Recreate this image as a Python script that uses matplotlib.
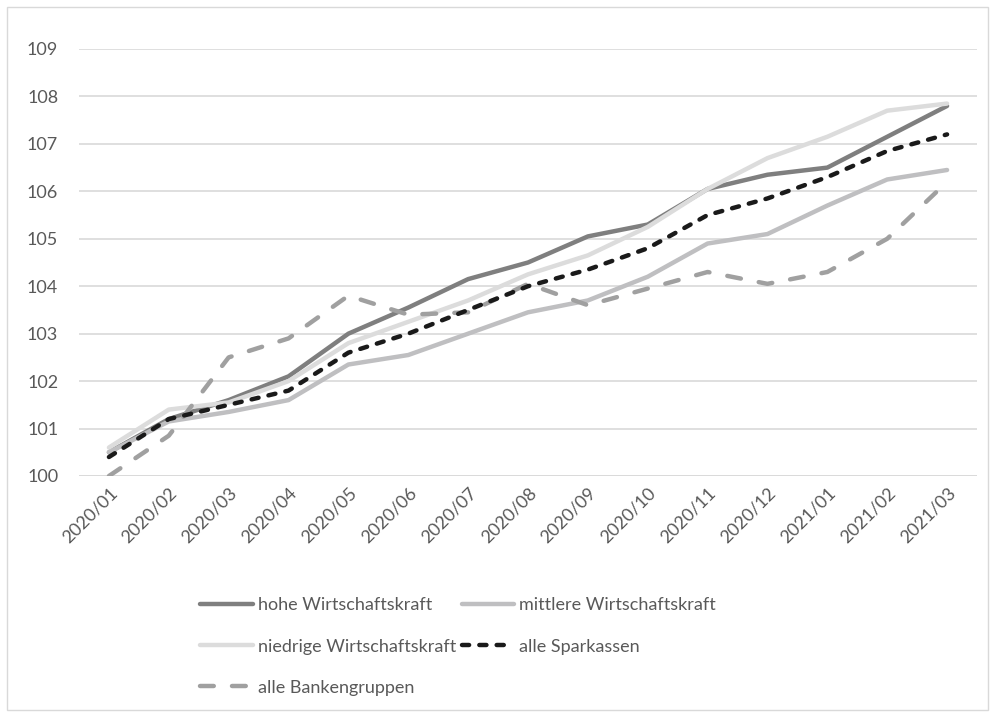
import numpy as np
import matplotlib.pyplot as plt
from matplotlib.patches import Rectangle

# Monate
monate = ['2020/01', '2020/02', '2020/03', '2020/04', '2020/05', '2020/06', '2020/07', '2020/08',
          '2020/09', '2020/10', '2020/11', '2020/12', '2021/01', '2021/02', '2021/03']

hohe = [100.5, 101.2, 101.6, 102.1, 103.0, 103.55, 104.15, 104.5, 105.05, 105.3,
        106.05, 106.35, 106.5, 107.15, 107.8]
mittlere = [100.5, 101.15, 101.35, 101.6, 102.35, 102.55, 103.0, 103.45, 103.7, 104.2,
            104.9, 105.1, 105.7, 106.25, 106.45]
niedrige = [100.6, 101.4, 101.55, 102.0, 102.8, 103.25, 103.7, 104.25, 104.65, 105.25,
            106.05, 106.7, 107.15, 107.7, 107.85]
sparkassen = [100.4, 101.2, 101.5, 101.8, 102.6, 103.0, 103.5, 104.0, 104.35, 104.8,
              105.5, 105.85, 106.3, 106.85, 107.2]
bankengruppen = [100.0, 100.85, 102.5, 102.9, 103.8, 103.4, 103.45, 104.05, 103.6, 103.95,
                 104.3, 104.05, 104.3, 105.0, 106.2]

plt.rcParams['font.family'] = ['Lato', 'DejaVu Sans']

fig = plt.figure(figsize=(9.95, 7.17), dpi=100)
ax = fig.add_axes([79/995, 1 - 476/717, (977 - 79)/995, (476 - 49)/717])

x = np.arange(len(monate))
l1, = ax.plot(x, hohe, color='#7f7f7f', lw=3.2, solid_capstyle='round', label='hohe Wirtschaftskraft')
l2, = ax.plot(x, mittlere, color='#bfbfc1', lw=3.2, solid_capstyle='round', label='mittlere Wirtschaftskraft')
l3, = ax.plot(x, niedrige, color='#dcdcdc', lw=3.2, solid_capstyle='round', label='niedrige Wirtschaftskraft')
l5, = ax.plot(x, bankengruppen, color='#a0a0a0', lw=3.2, dashes=(3.1, 4.1), dash_capstyle='round',
              label='alle Bankengruppen')
l4, = ax.plot(x, sparkassen, color='#1a1a1a', lw=3.2, dashes=(1.6, 2.3), dash_capstyle='round',
              label='alle Sparkassen')

ax.set_xlim(-0.5, len(monate) - 0.5)
ax.set_ylim(100, 109)
ax.set_yticks(range(100, 110))
ax.set_xticks(x)
ax.set_xticklabels(monate, rotation=45, ha='right', rotation_mode='anchor')
ax.tick_params(axis='both', length=0, labelsize=13, colors='#595959')
ax.tick_params(axis='y', pad=15)
ax.tick_params(axis='x', pad=6)
ax.grid(axis='y', color='#d9d9d9', lw=1.2)
ax.set_axisbelow(True)
for s in ax.spines.values():
    s.set_visible(False)
ax.axhline(100, color='#d9d9d9', lw=1.2, zorder=0)

# Legende
leg = fig.legend(handles=[l1, l3, l5, l2, l4], loc='upper left',
                 bbox_to_anchor=(184/995, 1 - 581/717), ncol=2, frameon=False,
                 fontsize=13, handlelength=2.9, handletextpad=0.3, columnspacing=0.3,
                 labelspacing=1.4)
for t in leg.get_texts():
    t.set_color('#595959')

# Rahmen
fig.patches.append(Rectangle((7/995, 7/717), 981/995, 703/717, transform=fig.transFigure,
                             fill=False, edgecolor='#d9d9d9', lw=1))

fig.savefig('out.png', dpi=100)
